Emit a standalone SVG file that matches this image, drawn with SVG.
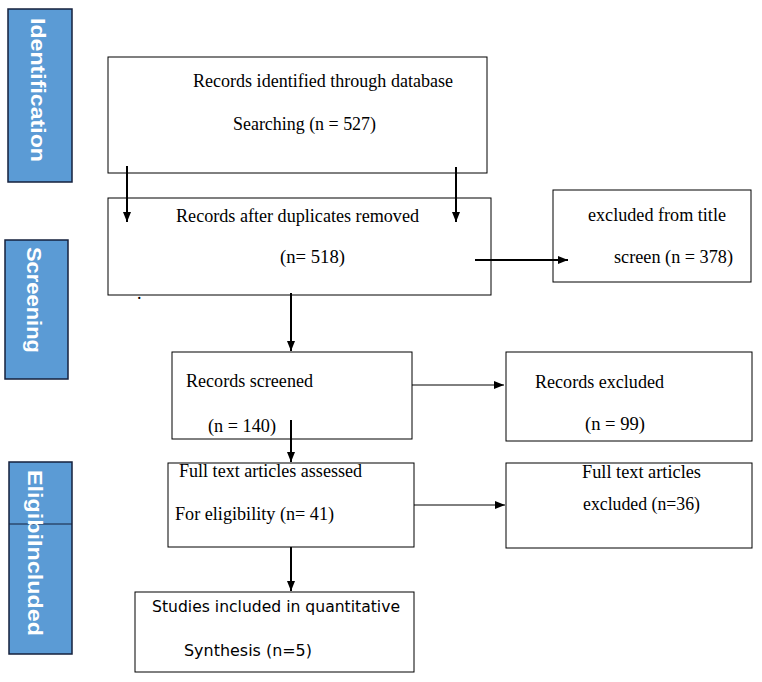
<svg xmlns="http://www.w3.org/2000/svg" width="762" height="682" viewBox="0 0 762 682">
<style>
.box{fill:#fff;stroke:#000;stroke-width:1}
.side{fill:#5B9BD5;stroke:#14213D;stroke-width:1.5}
.t{font-size:18px;fill:#000}
.s{font-size:15px;fill:#000}
.v{font-size:21px;fill:#fff}
.c{stroke:#000;fill:none}
</style>
<defs>
<marker id="ah" viewBox="0 0 10 10" refX="10" refY="5" markerWidth="10" markerHeight="10" markerUnits="userSpaceOnUse" orient="auto">
<path d="M0,1 L10,5 L0,9 Z" fill="#000"/>
</marker>
</defs>
<rect width="762" height="682" fill="#fff"/>
<g id="side-identification" font-family="Liberation Sans, Arial, sans-serif" font-weight="bold">
<rect class="side" x="8" y="9" width="64" height="173"/>
<text class="v" transform="translate(31,18) rotate(90)" textLength="144" lengthAdjust="spacingAndGlyphs">Identification</text>
</g>
<g id="side-screening" font-family="Liberation Sans, Arial, sans-serif" font-weight="bold">
<rect class="side" x="5" y="240" width="63" height="139"/>
<text class="v" transform="translate(27,247) rotate(90)" textLength="106" lengthAdjust="spacingAndGlyphs">Screening</text>
</g>
<g id="side-eligibility-included" font-family="Liberation Sans, Arial, sans-serif" font-weight="bold">
<rect class="side" x="9" y="462" width="63" height="192"/>
<line x1="9" y1="524" x2="72" y2="524" stroke="#14213D" stroke-width="1"/>
<text class="v" transform="translate(28,470) rotate(90)" textLength="166" lengthAdjust="spacingAndGlyphs">EligibiIncluded</text>
</g>
<g id="n-identified" font-family="Liberation Serif, Times New Roman, serif">
<rect class="box" x="108" y="57" width="379" height="116"/>
<text class="t" x="193" y="87" textLength="260" lengthAdjust="spacingAndGlyphs">Records identified through database</text>
<text class="t" x="233" y="130" textLength="143" lengthAdjust="spacingAndGlyphs">Searching (n = 527)</text>
</g>
<g id="n-duplicates" font-family="Liberation Serif, Times New Roman, serif">
<rect class="box" x="108" y="198" width="383" height="97"/>
<text class="t" x="176" y="222" textLength="243" lengthAdjust="spacingAndGlyphs">Records after duplicates removed</text>
<text class="t" x="280" y="263" textLength="65" lengthAdjust="spacingAndGlyphs">(n= 518)</text>
<text class="t" x="137" y="299">.</text>
</g>
<g id="n-excluded-title" font-family="Liberation Serif, Times New Roman, serif">
<rect class="box" x="553" y="190" width="198" height="92"/>
<text class="t" x="588" y="221" textLength="138" lengthAdjust="spacingAndGlyphs">excluded from title</text>
<text class="t" x="614" y="263" textLength="119" lengthAdjust="spacingAndGlyphs">screen (n = 378)</text>
</g>
<g id="n-screened" font-family="Liberation Serif, Times New Roman, serif">
<rect class="box" x="172" y="352" width="240" height="87"/>
<text class="t" x="186" y="387" textLength="127" lengthAdjust="spacingAndGlyphs">Records screened</text>
<text class="t" x="208" y="432" textLength="68" lengthAdjust="spacingAndGlyphs">(n = 140)</text>
</g>
<g id="n-records-excluded" font-family="Liberation Serif, Times New Roman, serif">
<rect class="box" x="506" y="352" width="246" height="89"/>
<text class="t" x="535" y="388" textLength="129" lengthAdjust="spacingAndGlyphs">Records excluded</text>
<text class="t" x="585" y="430" textLength="60" lengthAdjust="spacingAndGlyphs">(n = 99)</text>
</g>
<g id="n-fulltext" font-family="Liberation Serif, Times New Roman, serif">
<rect class="box" x="168" y="463" width="246" height="84"/>
<text class="t" x="179" y="477" textLength="183" lengthAdjust="spacingAndGlyphs">Full text articles assessed</text>
<text class="t" x="175" y="520" textLength="159" lengthAdjust="spacingAndGlyphs">For eligibility (n= 41)</text>
</g>
<g id="n-fulltext-excluded" font-family="Liberation Serif, Times New Roman, serif">
<rect class="box" x="506" y="463" width="246" height="85"/>
<text class="t" x="582" y="478" textLength="119" lengthAdjust="spacingAndGlyphs">Full text articles</text>
<text class="t" x="583" y="510" textLength="117" lengthAdjust="spacingAndGlyphs">excluded (n=36)</text>
</g>
<g id="n-included" font-family="DejaVu Sans, Liberation Sans, sans-serif">
<rect class="box" x="135" y="592" width="279" height="80"/>
<text class="s" x="152" y="612" textLength="248" lengthAdjust="spacingAndGlyphs">Studies included in quantitative</text>
<text class="s" x="184" y="656" textLength="128" lengthAdjust="spacingAndGlyphs">Synthesis (n=5)</text>
</g>
<g id="connectors">
<line class="c" stroke-width="2" x1="127" y1="166" x2="127" y2="222" marker-end="url(#ah)"/>
<line class="c" stroke-width="2" x1="456" y1="167" x2="456" y2="222" marker-end="url(#ah)"/>
<line class="c" stroke-width="2" x1="475" y1="260" x2="568" y2="260" marker-end="url(#ah)"/>
<line class="c" stroke-width="2" x1="291" y1="293" x2="291" y2="351" marker-end="url(#ah)"/>
<line class="c" stroke-width="1" x1="412" y1="385" x2="504" y2="385" marker-end="url(#ah)"/>
<line class="c" stroke-width="2" x1="291" y1="420" x2="291" y2="462" marker-end="url(#ah)"/>
<line class="c" stroke-width="1" x1="414" y1="505" x2="505" y2="505" marker-end="url(#ah)"/>
<line class="c" stroke-width="2" x1="291" y1="547" x2="291" y2="591" marker-end="url(#ah)"/>
</g>
</svg>
